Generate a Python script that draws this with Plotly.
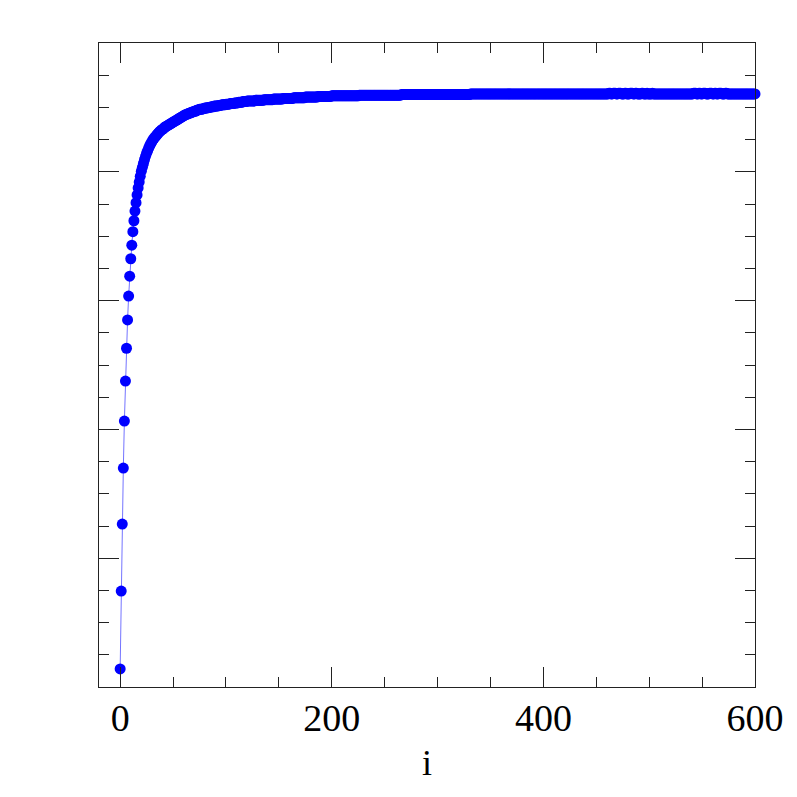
import plotly.graph_objects as go

# y value of each point i = 0..600 (rows of ten)
y_vals = [
    0.028, 0.149, 0.253, 0.340, 0.413, 0.475, 0.526, 0.570, 0.607, 0.638,  # 0
    0.665, 0.686, 0.707, 0.724, 0.739, 0.752, 0.764, 0.775, 0.784, 0.793,  # 10
    0.801, 0.807, 0.813, 0.819, 0.824, 0.829, 0.833, 0.837, 0.841, 0.844,  # 20
    0.847, 0.850, 0.852, 0.854, 0.856, 0.858, 0.860, 0.862, 0.863, 0.865,  # 30
    0.866, 0.867, 0.869, 0.870, 0.871, 0.872, 0.873, 0.874, 0.875, 0.876,  # 40
    0.877, 0.878, 0.879, 0.880, 0.881, 0.882, 0.883, 0.884, 0.885, 0.886,  # 50
    0.887, 0.888, 0.889, 0.889, 0.890, 0.891, 0.891, 0.892, 0.893, 0.893,  # 60
    0.894, 0.894, 0.895, 0.896, 0.896, 0.897, 0.897, 0.897, 0.898, 0.898,  # 70
    0.899, 0.899, 0.899, 0.900, 0.900, 0.900, 0.901, 0.901, 0.901, 0.902,  # 80
    0.902, 0.902, 0.902, 0.903, 0.903, 0.903, 0.904, 0.904, 0.904, 0.904,  # 90
    0.905, 0.905, 0.905, 0.905, 0.906, 0.906, 0.906, 0.906, 0.907, 0.907,  # 100
    0.907, 0.907, 0.908, 0.908, 0.908, 0.908, 0.909, 0.909, 0.909, 0.909,  # 110
    0.910, 0.910, 0.910, 0.910, 0.910, 0.910, 0.910, 0.910, 0.911, 0.911,  # 120
    0.911, 0.911, 0.911, 0.911, 0.911, 0.911, 0.912, 0.912, 0.912, 0.912,  # 130
    0.912, 0.912, 0.912, 0.912, 0.912, 0.913, 0.913, 0.913, 0.913, 0.913,  # 140
    0.913, 0.913, 0.913, 0.913, 0.914, 0.914, 0.914, 0.914, 0.914, 0.914,  # 150
    0.914, 0.914, 0.914, 0.914, 0.915, 0.915, 0.915, 0.915, 0.915, 0.915,  # 160
    0.915, 0.915, 0.915, 0.915, 0.915, 0.916, 0.916, 0.916, 0.916, 0.916,  # 170
    0.916, 0.916, 0.916, 0.916, 0.916, 0.916, 0.916, 0.917, 0.917, 0.917,  # 180
    0.917, 0.917, 0.917, 0.917, 0.917, 0.917, 0.917, 0.917, 0.917, 0.917,  # 190
    0.918, 0.918, 0.918, 0.918, 0.918, 0.918, 0.918, 0.918, 0.918, 0.918,  # 200
    0.918, 0.918, 0.918, 0.918, 0.918, 0.918, 0.918, 0.918, 0.918, 0.918,  # 210
    0.918, 0.918, 0.918, 0.918, 0.918, 0.918, 0.919, 0.919, 0.919, 0.919,  # 220
    0.919, 0.919, 0.919, 0.919, 0.919, 0.919, 0.919, 0.919, 0.919, 0.919,  # 230
    0.919, 0.919, 0.919, 0.919, 0.919, 0.919, 0.919, 0.919, 0.919, 0.919,  # 240
    0.919, 0.919, 0.919, 0.919, 0.919, 0.919, 0.919, 0.919, 0.919, 0.919,  # 250
    0.919, 0.919, 0.919, 0.919, 0.919, 0.919, 0.920, 0.920, 0.920, 0.920,  # 260
    0.920, 0.920, 0.920, 0.920, 0.920, 0.920, 0.920, 0.920, 0.920, 0.920,  # 270
    0.920, 0.920, 0.920, 0.920, 0.920, 0.920, 0.920, 0.920, 0.920, 0.920,  # 280
    0.920, 0.920, 0.920, 0.920, 0.920, 0.920, 0.920, 0.920, 0.920, 0.920,  # 290
    0.920, 0.920, 0.920, 0.920, 0.920, 0.920, 0.920, 0.920, 0.920, 0.920,  # 300
    0.920, 0.920, 0.920, 0.920, 0.920, 0.920, 0.920, 0.920, 0.920, 0.920,  # 310
    0.920, 0.920, 0.920, 0.920, 0.920, 0.920, 0.920, 0.920, 0.920, 0.920,  # 320
    0.920, 0.921, 0.921, 0.921, 0.921, 0.921, 0.921, 0.921, 0.921, 0.921,  # 330
    0.921, 0.921, 0.921, 0.921, 0.921, 0.921, 0.921, 0.921, 0.921, 0.921,  # 340
    0.921, 0.921, 0.921, 0.921, 0.921, 0.921, 0.921, 0.921, 0.921, 0.921,  # 350
    0.921, 0.921, 0.921, 0.921, 0.921, 0.921, 0.921, 0.921, 0.921, 0.921,  # 360
    0.921, 0.921, 0.921, 0.921, 0.921, 0.921, 0.921, 0.921, 0.921, 0.921,  # 370
    0.921, 0.921, 0.921, 0.921, 0.921, 0.921, 0.921, 0.921, 0.921, 0.921,  # 380
    0.921, 0.921, 0.921, 0.921, 0.921, 0.921, 0.921, 0.921, 0.921, 0.921,  # 390
    0.921, 0.921, 0.921, 0.921, 0.921, 0.921, 0.921, 0.921, 0.921, 0.921,  # 400
    0.921, 0.921, 0.921, 0.921, 0.921, 0.921, 0.921, 0.921, 0.921, 0.921,  # 410
    0.921, 0.921, 0.921, 0.921, 0.921, 0.921, 0.921, 0.921, 0.921, 0.921,  # 420
    0.921, 0.921, 0.921, 0.921, 0.921, 0.921, 0.921, 0.921, 0.921, 0.921,  # 430
    0.921, 0.921, 0.921, 0.921, 0.921, 0.921, 0.921, 0.921, 0.921, 0.921,  # 440
    0.921, 0.921, 0.921, 0.921, 0.921, 0.921, 0.921, 0.921, 0.921, 0.921,  # 450
    0.921, 0.921, 0.922, 0.922, 0.921, 0.921, 0.922, 0.922, 0.922, 0.921,  # 460
    0.921, 0.922, 0.922, 0.922, 0.921, 0.921, 0.921, 0.922, 0.922, 0.921,  # 470
    0.921, 0.921, 0.922, 0.922, 0.922, 0.921, 0.921, 0.922, 0.922, 0.921,  # 480
    0.921, 0.921, 0.921, 0.922, 0.922, 0.921, 0.921, 0.921, 0.922, 0.921,  # 490
    0.921, 0.921, 0.921, 0.922, 0.921, 0.921, 0.921, 0.921, 0.921, 0.921,  # 500
    0.921, 0.921, 0.921, 0.921, 0.921, 0.921, 0.921, 0.921, 0.921, 0.921,  # 510
    0.921, 0.921, 0.921, 0.921, 0.921, 0.921, 0.921, 0.921, 0.921, 0.921,  # 520
    0.921, 0.921, 0.921, 0.921, 0.921, 0.921, 0.921, 0.921, 0.921, 0.921,  # 530
    0.921, 0.921, 0.922, 0.922, 0.922, 0.921, 0.921, 0.922, 0.922, 0.921,  # 540
    0.921, 0.922, 0.922, 0.922, 0.921, 0.921, 0.921, 0.922, 0.922, 0.922,  # 550
    0.921, 0.921, 0.922, 0.922, 0.921, 0.921, 0.922, 0.922, 0.922, 0.921,  # 560
    0.921, 0.921, 0.922, 0.922, 0.921, 0.921, 0.921, 0.921, 0.921, 0.921,  # 570
    0.921, 0.921, 0.921, 0.921, 0.921, 0.921, 0.921, 0.921, 0.921, 0.921,  # 580
    0.921, 0.921, 0.921, 0.921, 0.921, 0.921, 0.921, 0.921, 0.921, 0.921,  # 590
    0.921,                                                                 # 600
]
i_vals = list(range(len(y_vals)))

x_tick_vals = [0, 200, 400, 600]
x_tick_text = ["0", "200", "400", "600"]
x_title = "i"

AX = "#222222"
FONT = "Liberation Serif"

fig = go.Figure(
    go.Scatter(
        x=i_vals,
        y=y_vals,
        mode="lines+markers",
        line=dict(color="rgba(0,0,255,0.55)", width=1),
        marker=dict(color="#0000ff", size=11, line=dict(width=0)),
        cliponaxis=False,
        showlegend=False,
    )
)

fig.update_layout(
    width=797,
    height=797,
    margin=dict(l=91, r=50, t=35, b=118),
    paper_bgcolor="white",
    plot_bgcolor="white",
    font=dict(family=FONT, color="black"),
)

fig.update_xaxes(
    range=[-20, 600],
    tickmode="array",
    tickvals=x_tick_vals,
    ticktext=x_tick_text,
    ticks="inside",
    ticklen=20,
    tickwidth=1,
    tickcolor=AX,
    showline=True,
    linecolor=AX,
    linewidth=1,
    mirror="allticks",
    showgrid=False,
    zeroline=False,
    tickfont=dict(family=FONT, size=38, color="black"),
    ticklabelstandoff=-3,
    minor=dict(tick0=0, dtick=50, ticks="inside", ticklen=10, tickwidth=1, tickcolor=AX, showgrid=False),
    title=dict(text=x_title, font=dict(family=FONT, size=36, color="black"), standoff=12),
)

fig.update_yaxes(
    range=[0, 1],
    tick0=0,
    dtick=0.2,
    ticks="inside",
    ticklen=20,
    tickwidth=1,
    tickcolor=AX,
    showticklabels=False,
    showline=True,
    linecolor=AX,
    linewidth=1,
    mirror="allticks",
    showgrid=False,
    zeroline=False,
    minor=dict(tick0=0, dtick=0.05, ticks="inside", ticklen=10, tickwidth=1, tickcolor=AX, showgrid=False),
)

fig.write_html("out.html")
